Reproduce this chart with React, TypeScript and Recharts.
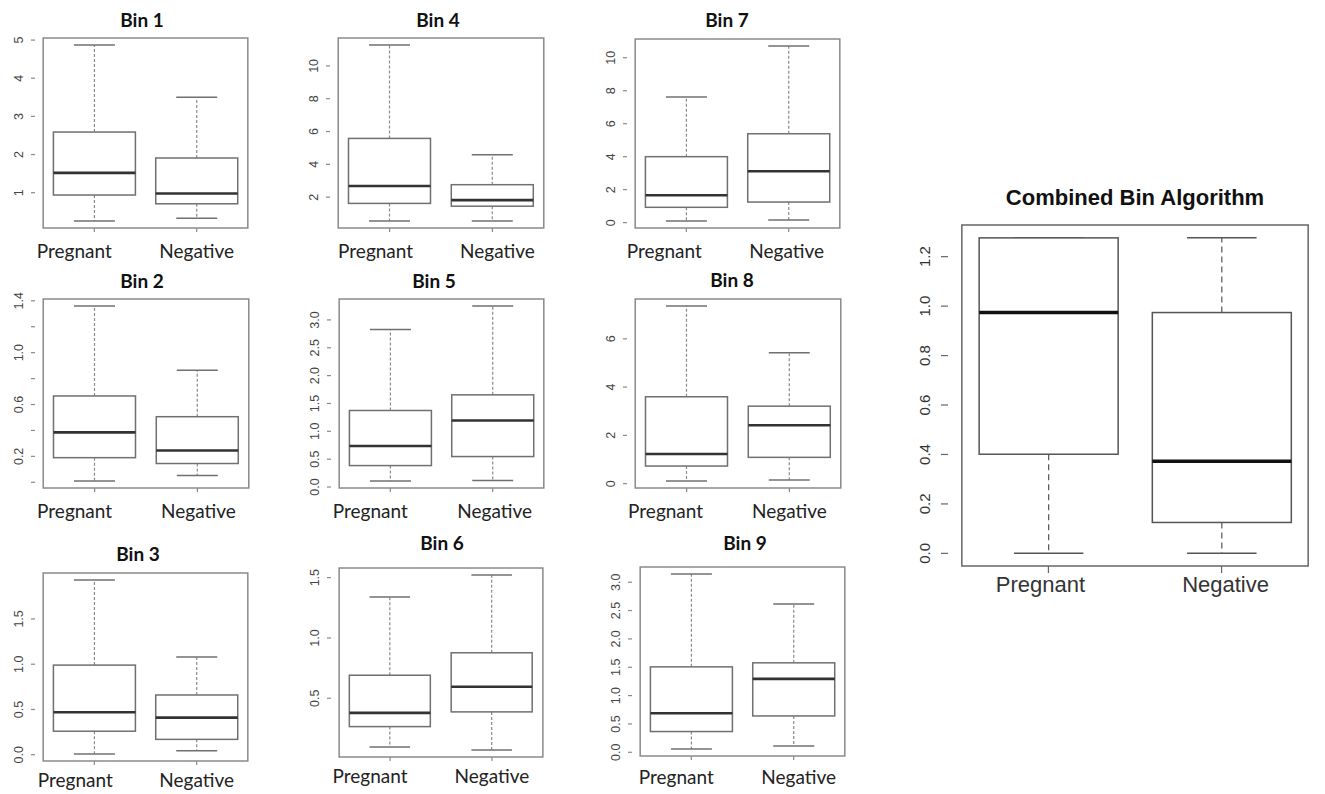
import React from "react";
import { Bar, BarChart, ReferenceArea, XAxis, YAxis } from "recharts";

const groups = ["Pregnant", "Negative"];

// five-number summaries: [min, q1, median, q3, max]
const bin1Pregnant = [0.26, 0.94, 1.52, 2.59, 4.87];
const bin1Negative = [0.33, 0.71, 0.98, 1.91, 3.5];
const bin2Pregnant = [0.01, 0.19, 0.385, 0.666, 1.36];
const bin2Negative = [0.052, 0.145, 0.245, 0.506, 0.865];
const bin3Pregnant = [0.008, 0.26, 0.47, 0.99, 1.93];
const bin3Negative = [0.044, 0.17, 0.41, 0.66, 1.08];
const bin4Pregnant = [0.55, 1.62, 2.68, 5.58, 11.27];
const bin4Negative = [0.55, 1.45, 1.82, 2.76, 4.58];
const bin5Pregnant = [0.108, 0.385, 0.737, 1.374, 2.83];
const bin5Negative = [0.115, 0.547, 1.194, 1.655, 3.25];
const bin6Pregnant = [0.096, 0.265, 0.379, 0.691, 1.339];
const bin6Negative = [0.071, 0.387, 0.595, 0.877, 1.522];
const bin7Pregnant = [0.1, 0.93, 1.66, 4.0, 7.62];
const bin7Negative = [0.16, 1.25, 3.12, 5.39, 10.71];
const bin8Pregnant = [0.11, 0.73, 1.23, 3.6, 7.36];
const bin8Negative = [0.15, 1.09, 2.42, 3.21, 5.42];
const bin9Pregnant = [0.058, 0.366, 0.689, 1.507, 3.145];
const bin9Negative = [0.111, 0.641, 1.295, 1.578, 2.615];
const combinedPregnant = [0, 0.401, 0.974, 1.276, 1.276];
const combinedNegative = [0, 0.125, 0.373, 0.974, 1.277];

// y ticks and their printed labels ("" = tick without label, as R drops overlaps)
const bin1Ticks = [1, 2, 3, 4, 5];
const bin1Labels = ["1", "2", "3", "4", "5"];
const bin2Ticks = [0, 0.2, 0.4, 0.6, 0.8, 1.0, 1.2, 1.4];
const bin2Labels = ["", "0.2", "", "0.6", "", "1.0", "", "1.4"];
const bin3Ticks = [0, 0.5, 1.0, 1.5];
const bin3Labels = ["0.0", "0.5", "1.0", "1.5"];
const bin4Ticks = [2, 4, 6, 8, 10];
const bin4Labels = ["2", "4", "6", "8", "10"];
const bin5Ticks = [0, 0.5, 1.0, 1.5, 2.0, 2.5, 3.0];
const bin5Labels = ["0.0", "0.5", "1.0", "1.5", "2.0", "2.5", "3.0"];
const bin6Ticks = [0.5, 1.0, 1.5];
const bin6Labels = ["0.5", "1.0", "1.5"];
const bin7Ticks = [0, 2, 4, 6, 8, 10];
const bin7Labels = ["0", "2", "4", "6", "8", "10"];
const bin8Ticks = [0, 2, 4, 6];
const bin8Labels = ["0", "2", "4", "6"];
const bin9Ticks = [0, 0.5, 1.0, 1.5, 2.0, 2.5, 3.0];
const bin9Labels = ["0.0", "0.5", "1.0", "1.5", "2.0", "2.5", "3.0"];
const combinedTicks = [0, 0.2, 0.4, 0.6, 0.8, 1.0, 1.2];
const combinedLabels = ["0.0", "0.2", "0.4", "0.6", "0.8", "1.0", "1.2"];

const ARIAL = "'Liberation Sans', Arial, sans-serif";
const CALIBRI = "Lato, 'Open Sans', sans-serif";

const small = {
  axisW: 30, tickSize: 4, tickMargin: 8, tickFont: 12.5, tickFill: "#444",
  frame: "#8a8a8a", box: "#707070", whisker: "#8a8a8a", median: "#333", medianW: 2.6,
  dash: "3 2", labelFont: CALIBRI, labelSize: 19, labelFill: "#222",
};
const big = {
  axisW: 50, tickSize: 7, tickMargin: 11, tickFont: 15, tickFill: "#333",
  frame: "#666", box: "#555", whisker: "#555", median: "#111", medianW: 3.5,
  dash: "6 4", labelFont: ARIAL, labelSize: 22, labelFill: "#333",
};

// frame = [left, top, right, bottom] of the plot box; titleAt = [centre x, baseline y]
const panels = [
  { title: "Bin 1", pregnant: bin1Pregnant, negative: bin1Negative, ticks: bin1Ticks, labels: bin1Labels, frame: [35, 38, 256, 228], titleAt: [142, 27], labelOff: 30, labelDx: [-20, 0], st: small },
  { title: "Bin 2", pregnant: bin2Pregnant, negative: bin2Negative, ticks: bin2Ticks, labels: bin2Labels, frame: [35, 299, 257, 488], titleAt: [142, 288], labelOff: 30, labelDx: [-20, 1], st: small },
  { title: "Bin 3", pregnant: bin3Pregnant, negative: bin3Negative, ticks: bin3Ticks, labels: bin3Labels, frame: [35, 573, 256, 761], titleAt: [138, 561], labelOff: 26, labelDx: [-19, 0], st: small },
  { title: "Bin 4", pregnant: bin4Pregnant, negative: bin4Negative, ticks: bin4Ticks, labels: bin4Labels, frame: [330, 38, 552, 228], titleAt: [438, 27], labelOff: 30, labelDx: [-14, 5], st: small },
  { title: "Bin 5", pregnant: bin5Pregnant, negative: bin5Negative, ticks: bin5Ticks, labels: bin5Labels, frame: [331, 299, 552, 488], titleAt: [434, 288], labelOff: 30, labelDx: [-20, 2], st: small },
  { title: "Bin 6", pregnant: bin6Pregnant, negative: bin6Negative, ticks: bin6Ticks, labels: bin6Labels, frame: [331, 568, 551, 757], titleAt: [442, 550], labelOff: 26, labelDx: [-20, 0], st: small },
  { title: "Bin 7", pregnant: bin7Pregnant, negative: bin7Negative, ticks: bin7Ticks, labels: bin7Labels, frame: [627, 39, 848, 228], titleAt: [727, 27], labelOff: 30, labelDx: [-22, -2], st: small },
  { title: "Bin 8", pregnant: bin8Pregnant, negative: bin8Negative, ticks: bin8Ticks, labels: bin8Labels, frame: [627, 299, 849, 488], titleAt: [732, 287], labelOff: 30, labelDx: [-21, 0], st: small },
  { title: "Bin 9", pregnant: bin9Pregnant, negative: bin9Negative, ticks: bin9Ticks, labels: bin9Labels, frame: [632, 567, 853, 756], titleAt: [745, 550], labelOff: 28, labelDx: [-15, 5], st: small },
  { title: "Combined Bin Algorithm", pregnant: combinedPregnant, negative: combinedNegative, ticks: combinedTicks, labels: combinedLabels, frame: [948, 225, 1322, 566], titleAt: [1135, 205], labelOff: 26, labelDx: [-8, 4], st: big },
];

function BoxShape(props: any) {
  const { x, y, width, height, payload, st } = props;
  const [mn, q1, md, q3, mx] = payload.stats;
  const top = Math.min(y, y + height);
  const h = Math.abs(height);
  const k = h / (q3 - q1);
  const py = (v: number) => top + (q3 - v) * k;
  const cx = x + width / 2;
  const cap = width / 4;
  return (
    <g>
      <line x1={cx} x2={cx} y1={py(q3)} y2={py(mx)} stroke={st.whisker} strokeWidth={1.2} strokeDasharray={st.dash} />
      <line x1={cx} x2={cx} y1={py(q1)} y2={py(mn)} stroke={st.whisker} strokeWidth={1.2} strokeDasharray={st.dash} />
      <line x1={cx - cap} x2={cx + cap} y1={py(mx)} y2={py(mx)} stroke={st.box} strokeWidth={1.5} />
      <line x1={cx - cap} x2={cx + cap} y1={py(mn)} y2={py(mn)} stroke={st.box} strokeWidth={1.5} />
      <rect x={x} y={top} width={width} height={h} fill="#fff" stroke={st.box} strokeWidth={1.5} />
      <line x1={x} x2={x + width} y1={py(md)} y2={py(md)} stroke={st.median} strokeWidth={st.medianW} />
    </g>
  );
}

function Panel({ p }: { p: any }) {
  const [L, T, R, B] = p.frame;
  const st = p.st;
  const pad = 14;
  const xH = 44;
  const w = R - L;
  const h = B - T;
  const all = [...p.pregnant, ...p.negative];
  const lo0 = Math.min(...all);
  const hi0 = Math.max(...all);
  const ext = (hi0 - lo0) * 0.04;
  const lo = lo0 - ext;
  const hi = hi0 + ext;
  const rows = groups.map((g, i) => {
    const s = i === 0 ? p.pregnant : p.negative;
    return { name: g, box: [s[1], s[3]], stats: s };
  });
  const xpad = w * 0.037;

  return (
    <div style={{ position: "absolute", left: L - st.axisW, top: T - pad }}>
      <BarChart
        width={st.axisW + w + 4}
        height={pad + h + xH}
        data={rows}
        margin={{ top: pad, right: 4, bottom: 0, left: 0 }}
        barCategoryGap="10%"
      >
        <XAxis
          dataKey="name"
          height={xH}
          padding={{ left: xpad, right: xpad }}
          axisLine={false}
          tickLine={{ stroke: st.frame, strokeWidth: 1.2 }}
          tickSize={st.tickSize}
          tickMargin={0}
          interval={0}
          tick={(tp: any) => (
            <text
              x={tp.x + p.labelDx[tp.index]}
              y={tp.y}
              dy={p.labelOff - st.tickSize}
              textAnchor="middle"
              fontFamily={st.labelFont}
              fontSize={st.labelSize}
              fill={st.labelFill}
            >
              {tp.payload.value}
            </text>
          )}
        />
        <YAxis
          type="number"
          domain={[lo, hi]}
          allowDataOverflow
          ticks={p.ticks}
          interval={0}
          width={st.axisW}
          axisLine={false}
          tickLine={{ stroke: st.frame, strokeWidth: 1.2 }}
          tickSize={st.tickSize}
          tickMargin={st.tickMargin}
          tick={(tp: any) => {
            const i = p.ticks.indexOf(tp.payload.value);
            const label = i >= 0 ? p.labels[i] : "";
            return (
              <text
                x={tp.x}
                y={tp.y}
                transform={`rotate(-90 ${tp.x} ${tp.y})`}
                textAnchor="middle"
                fontFamily={ARIAL}
                fontSize={st.tickFont}
                fill={st.tickFill}
              >
                {label}
              </text>
            );
          }}
        />
        <ReferenceArea y1={lo} y2={hi} fill="none" stroke={st.frame} strokeWidth={1.5} ifOverflow="visible" />
        <Bar dataKey="box" isAnimationActive={false} shape={(bp: any) => <BoxShape {...bp} st={st} />} />
      </BarChart>
    </div>
  );
}

export default function App() {
  return (
    <div style={{ position: "absolute", left: 0, top: 0, width: 1325, height: 794, background: "#fff" }}>
      {panels.map((p) => (
        <Panel key={p.title} p={p} />
      ))}
      <svg width={1325} height={794} style={{ position: "absolute", left: 0, top: 0, pointerEvents: "none" }}>
        {panels.map((p) => (
          <text
            key={p.title}
            x={p.titleAt[0]}
            y={p.titleAt[1]}
            textAnchor="middle"
            fontFamily={p.st === big ? ARIAL : CALIBRI}
            fontWeight="bold"
            fontSize={p.st === big ? 22 : 19}
            fill="#111"
          >
            {p.title}
          </text>
        ))}
      </svg>
    </div>
  );
}
